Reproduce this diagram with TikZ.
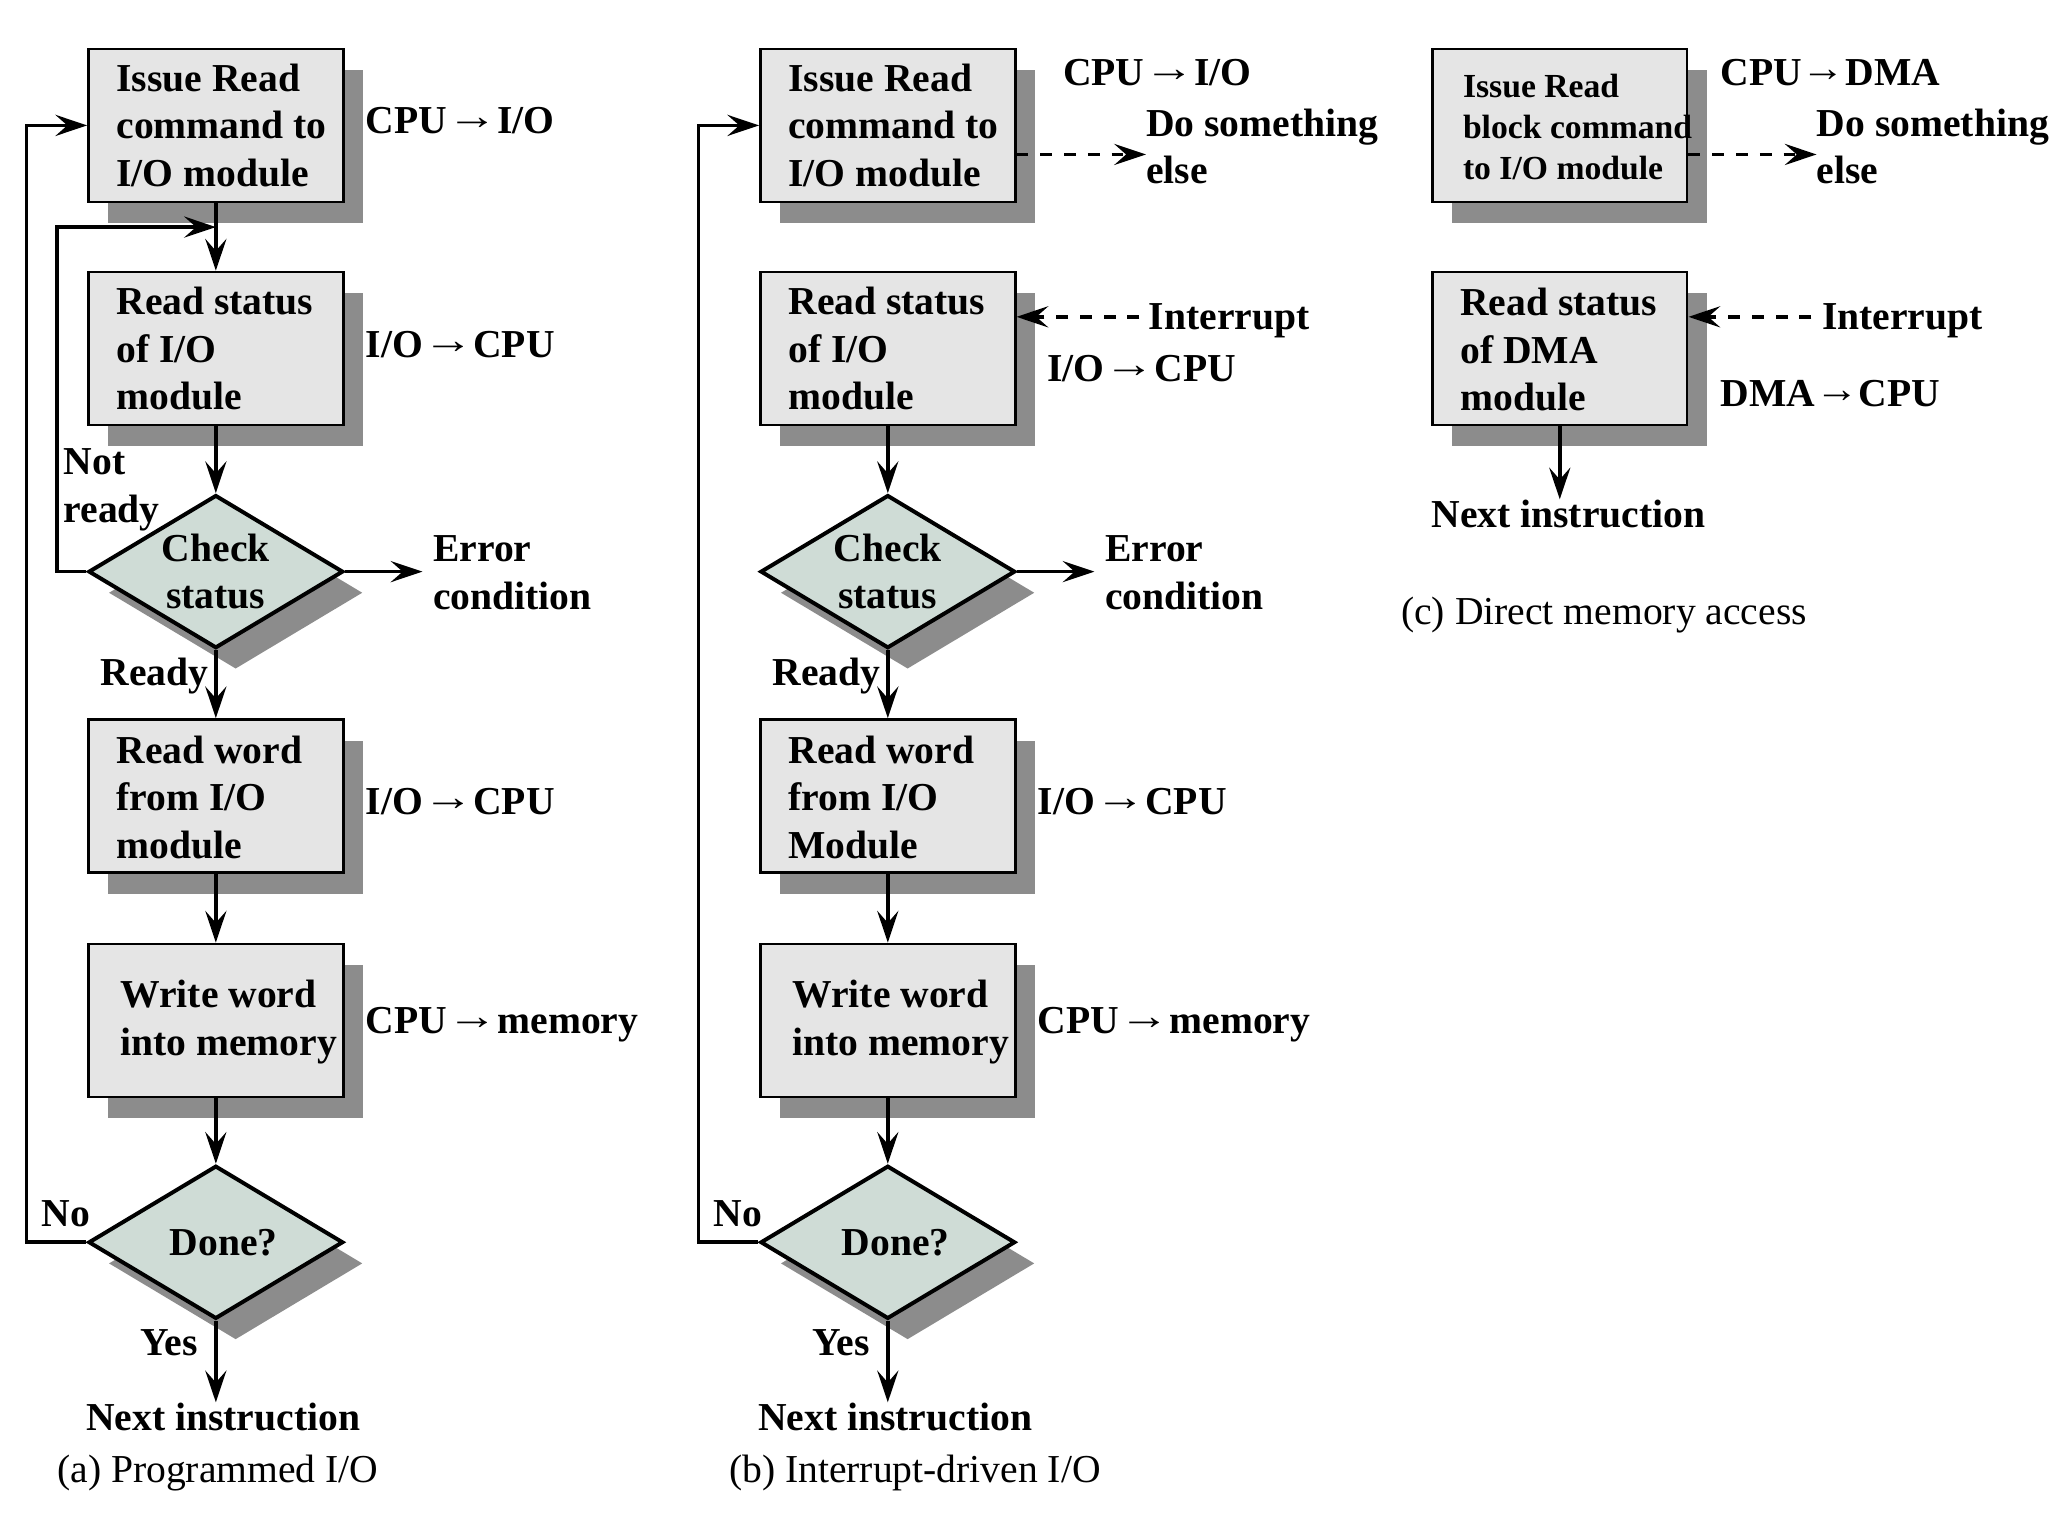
\documentclass[tikz,border=0pt]{standalone}
\usepackage{fontspec}
\usepackage{graphicx}
\setmainfont{Liberation Serif}
\usetikzlibrary{arrows.meta,shapes.geometric,shadows}

\definecolor{boxfill}{RGB}{229,229,229}
\definecolor{shadowfill}{RGB}{140,140,140}
\definecolor{decfill}{RGB}{207,220,214}

\newcommand{\bigbf}{\fontsize{30}{36}\selectfont\bfseries}
\newcommand{\smallbf}{\fontsize{25.5}{31}\selectfont\bfseries}
\newcommand{\capfont}{\fontsize{30}{36}\selectfont}
% stretched data-transfer arrows used inside the labels
\newcommand{\tarr}{\raisebox{3pt}{\resizebox{38pt}{\height}{→}}}
\newcommand{\sarr}{\raisebox{3pt}{\resizebox{33pt}{\height}{→}}}

\begin{document}
\begin{tikzpicture}[x=1pt,y=-1pt,
  boxshadow/.style={general shadow={fill=shadowfill, shadow xshift=15pt, shadow yshift=-16pt}},
  box/.style={draw=black, line width=2pt, fill=boxfill, minimum width=193pt,
    minimum height=116pt, inner sep=0pt, boxshadow},
  decision/.style={diamond, aspect=1.66, draw=black, line width=3pt, fill=decfill,
    minimum width=193pt, minimum height=116pt, inner sep=0pt, align=center,
    font=\bigbf, boxshadow},
  txt/.style={font=\bigbf, inner sep=0pt, align=left, anchor=west},
  lbl/.style={font=\bigbf, inner sep=0pt},
  figcaption/.style={font=\capfont, inner sep=0pt},
  flow/.style={line width=2.8pt, -{Stealth[length=24pt, width=16pt, inset=9pt]}},
  dflow/.style={flow, dash pattern=on 9pt off 9pt},
]
\useasboundingbox (0,0) rectangle (1568,1148);

% ---------------- (a) Programmed I/O ----------------
\node[box] (a1) at (163.5,95) {};
\node[txt] (a1t) at (88,95) {Issue Read\\command to\\I/O module};
\node[box] (a2) at (163.5,264) {};
\node[txt] (a2t) at (88,264) {Read status\\of I/O\\module};
\node[decision] (ack) at (163.5,433) {Check\\status};
\node[box] (a3) at (163.5,603) {};
\node[txt] (a3t) at (88,604) {Read word\\from I/O\\module};
\node[box] (a4) at (163.5,773) {};
\node[txt] (a4t) at (91,774) {Write word\\into memory};
\node[decision] (adn) at (163.5,941) {\hspace*{12pt}Done?};

\node[txt] (a1l) at (277,91) {CPU\tarr I/O};
\node[txt] (a2l) at (277,261) {I/O\tarr CPU};
\node[txt] (a3l) at (277,607) {I/O\tarr CPU};
\node[txt] (a4l) at (277,776) {CPU\tarr memory};
\node[txt] (aerr) at (328,434) {Error\\condition};
\node[txt] (anr) at (48,371) {Not\\ready};
\node[lbl] (ardy) at (117,512) {Ready};
\node[lbl] (ano) at (50,919) {No};
\node[lbl] (ayes) at (128,1017) {Yes};
\node[lbl] (anext) at (169,1073) {Next instruction};
\node[figcaption] (acap) at (165,1116) {(a) Programmed I/O};

\coordinate (ajoin) at (163.5,172);
\draw[flow] (a1.south) -- (a2.north);
\draw[flow] (a2.south) -- (ack.north);
\draw[flow, shorten >=8pt] (ack.east) -- (ack.east -| aerr.west);
\draw[flow] (ack.west) -- ++(-22.5,0) |- (ajoin);
\draw[flow] (ack.south) -- (a3.north);
\draw[flow] (a3.south) -- (a4.north);
\draw[flow] (a4.south) -- (adn.north);
\draw[flow] (adn.west) -- ++(-45.5,0) |- (a1.west);
\draw[flow] (adn.south) -- (adn.south |- anext.north);

% ---------------- (b) Interrupt-driven I/O ----------------
\node[box] (b1) at (672.5,95) {};
\node[txt] (b1t) at (597,95) {Issue Read\\command to\\I/O module};
\node[box] (b2) at (672.5,264) {};
\node[txt] (b2t) at (597,264) {Read status\\of I/O\\module};
\node[decision] (bck) at (672.5,433) {Check\\status};
\node[box] (b3) at (672.5,603) {};
\node[txt] (b3t) at (597,604) {Read word\\from I/O\\Module};
\node[box] (b4) at (672.5,773) {};
\node[txt] (b4t) at (600,774) {Write word\\into memory};
\node[decision] (bdn) at (672.5,941) {\hspace*{12pt}Done?};

\node[txt] (b1l) at (805,55) {CPU\tarr I/O};
\node[txt] (bdo) at (868,111) {Do something\\else};
\node[txt] (bint) at (870,243) {Interrupt};
\node[txt] (b2l) at (793,279) {I/O\tarr CPU};
\node[txt] (b3l) at (786,607) {I/O\tarr CPU};
\node[txt] (b4l) at (786,776) {CPU\tarr memory};
\node[txt] (berr) at (837,434) {Error\\condition};
\node[lbl] (brdy) at (626,512) {Ready};
\node[lbl] (bno) at (559,919) {No};
\node[lbl] (byes) at (637,1017) {Yes};
\node[lbl] (bnext) at (678,1073) {Next instruction};
\node[figcaption] (bcap) at (693,1116) {(b) Interrupt-driven I/O};

\coordinate (b1out) at ([yshift=-22pt]b1.east);
\coordinate (b2in) at ([yshift=24pt]b2.east);
\draw[dflow] (b1out) -- (b1out -| bdo.west);
\draw[dflow, shorten <=7pt] (b2in -| bint.west) -- (b2in);
\draw[flow] (b2.south) -- (bck.north);
\draw[flow, shorten >=8pt] (bck.east) -- (bck.east -| berr.west);
\draw[flow] (bck.south) -- (b3.north);
\draw[flow] (b3.south) -- (b4.north);
\draw[flow] (b4.south) -- (bdn.north);
\draw[flow] (bdn.west) -- ++(-45.5,0) |- (b1.west);
\draw[flow] (bdn.south) -- (bdn.south |- bnext.north);

% ---------------- (c) Direct memory access ----------------
\node[box] (c1) at (1181.5,95) {};
\node[txt, font=\smallbf] (c1t) at (1108,96) {Issue Read\\block command\\to I/O module};
\node[box] (c2) at (1181.5,264) {};
\node[txt] (c2t) at (1106,265) {Read status\\of DMA\\module};

\node[txt] (c1l) at (1303,55) {CPU\sarr DMA};
\node[txt] (cdo) at (1376,111) {Do something\\else};
\node[txt] (cint) at (1380,243) {Interrupt};
\node[txt] (c2l) at (1303,298) {DMA\sarr CPU};
\node[lbl] (cnext) at (1188,389) {Next instruction};
\node[figcaption] (ccap) at (1215,466) {(c) Direct memory access};

\coordinate (c1out) at ([yshift=-22pt]c1.east);
\coordinate (c2in) at ([yshift=24pt]c2.east);
\draw[dflow] (c1out) -- (c1out -| cdo.west);
\draw[dflow, shorten <=8pt] (c2in -| cint.west) -- (c2in);
\draw[flow] (c2.south) -- (c2.south |- cnext.north);
\end{tikzpicture}
\end{document}
